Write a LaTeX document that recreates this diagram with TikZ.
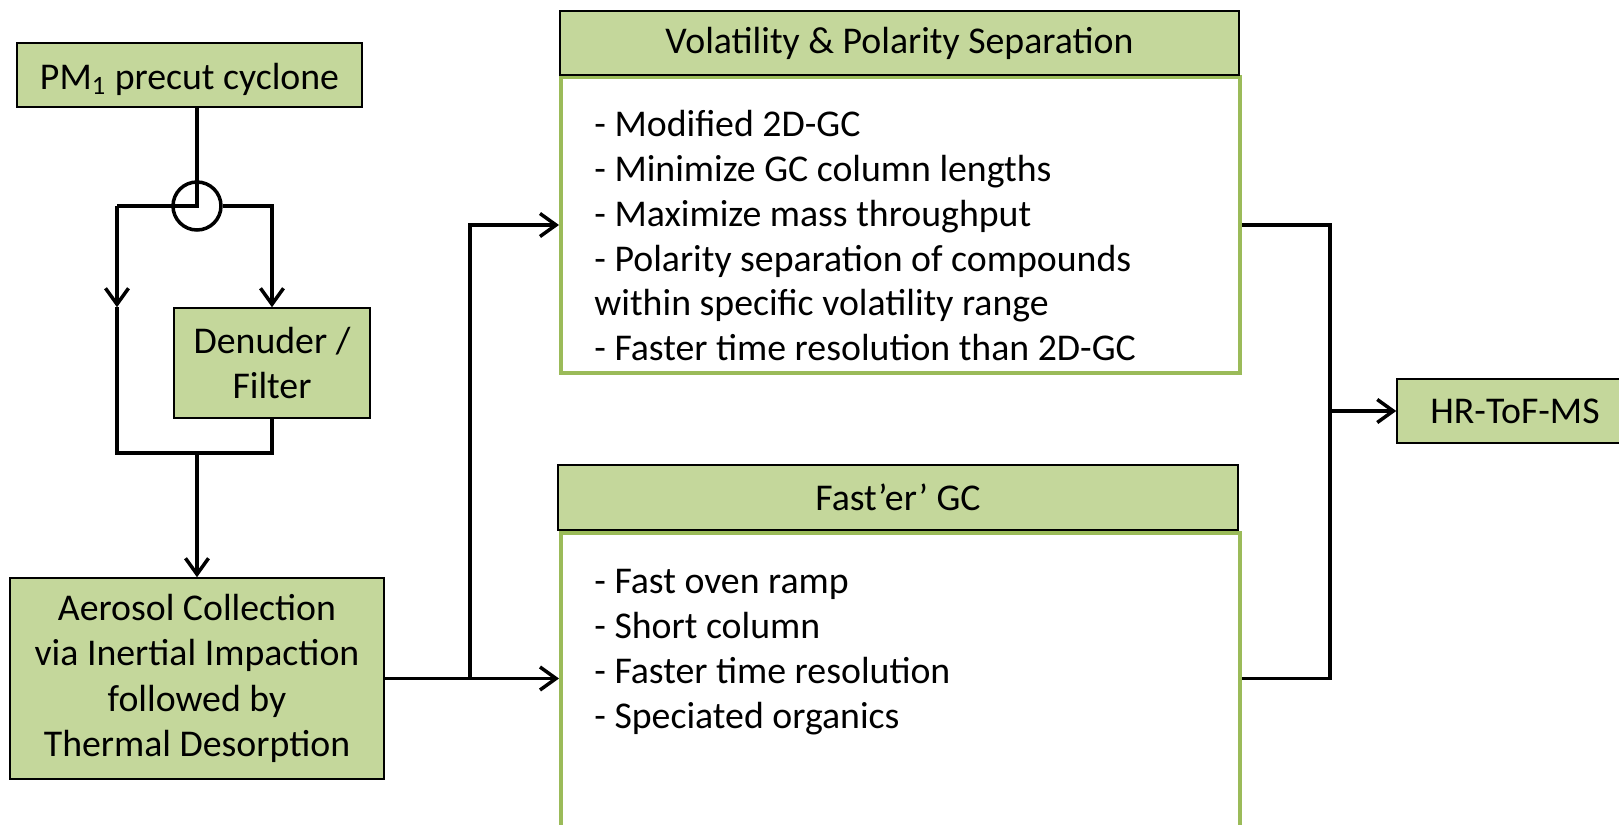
\documentclass[tikz,border=0pt]{standalone}
\usepackage{fontspec}
\setmainfont{Carlito}
\usetikzlibrary{arrows.meta,calc}
\definecolor{boxfill}{HTML}{C4D79B}
\definecolor{boxgreen}{HTML}{9BBB59}
\begin{document}
\begin{tikzpicture}[x=0.5pt,y=-0.5pt,
  every node/.style={font=\fontsize{18.9}{22.4}\selectfont},
  gbox/.style={draw=black, line width=0.75pt, fill=boxfill, inner sep=0pt, align=center},
  body/.style={draw=boxgreen, line width=2pt, fill=white, inner sep=0pt},
  conn/.style={line width=1.75pt, black},
  arr/.style={conn, -{Straight Barb[length=8pt,width=11.5pt]}},
  listtext/.style={anchor=north west, inner sep=0pt, align=left}]
\useasboundingbox (0,0) rectangle (1619,825);
\clip (0,0) rectangle (1619,825);
% boxes
\node[gbox, minimum width=172.5pt, minimum height=32pt, text height=17pt, text depth=3pt] (pm) at (189.5,75) {PM\textsubscript{1} precut cyclone};
\node[draw, circle, line width=1.75pt, minimum size=24pt, inner sep=0pt] (valve) at (197,206) {};
\node[gbox, minimum width=98pt, minimum height=55pt] (den) at (272,363) {Denuder /\\Filter};
\node[gbox, minimum width=187pt, minimum height=100.5pt, font=\fontsize{18.9}{22.6}\selectfont] (aer) at (197,678.5) {Aerosol Collection\\via Inertial Impaction\\followed by\\Thermal Desorption};
\node[body, minimum width=339.5pt, minimum height=148pt] (volb) at (900.5,225) {};
\node[gbox, minimum width=339.5pt, minimum height=32pt] (volh) at (899.5,43) {Volatility \& Polarity Separation};
\node[body, minimum width=339.5pt, minimum height=148.5pt] (fb) at (900.5,681.5) {};
\node[gbox, minimum width=340pt, minimum height=32.5pt] (fh) at (898,497.5) {Fast’er’ GC};
\node[gbox, minimum width=118pt, minimum height=32pt] (hr) at (1515,411) {HR-ToF-MS};
% list texts
\node[listtext] (voltext) at (594,105) {\strut- Modified 2D-GC\\- Minimize GC column lengths\\- Maximize mass throughput\\- Polarity separation of compounds\\within specific volatility range\\- Faster time resolution than 2D-GC};
\node[listtext] (fasttext) at (594,562) {\strut- Fast oven ramp\\- Short column\\- Faster time resolution\\- Speciated organics};
% junction coordinates
\coordinate (jl) at (117,453);
\coordinate (j1) at (470,678);
\coordinate (k) at (1330,411);
% connectors
\draw[conn] (pm.south -| valve) -- (valve.center) -- (valve.center -| jl);
\draw[arr] (valve.center -| jl) -- (jl |- den.north);
\draw[conn] (jl |- den.north) -- (jl) -- (den.south |- jl) -- (den.south);
\draw[arr] (valve.east) -- (valve.east -| den.north) -- (den.north);
\draw[arr] (valve |- jl) -- (aer.north);
\draw[arr] (aer.east) -- (fb.west |- aer.east);
\draw[arr] (j1) -- (j1 |- volb.west) -- (volb.west);
\draw[conn] (volb.east) -- (volb.east -| k) -- (k |- aer.east) -- (fb.east |- aer.east);
\draw[arr] (k) -- (hr.west);
\end{tikzpicture}
\end{document}
